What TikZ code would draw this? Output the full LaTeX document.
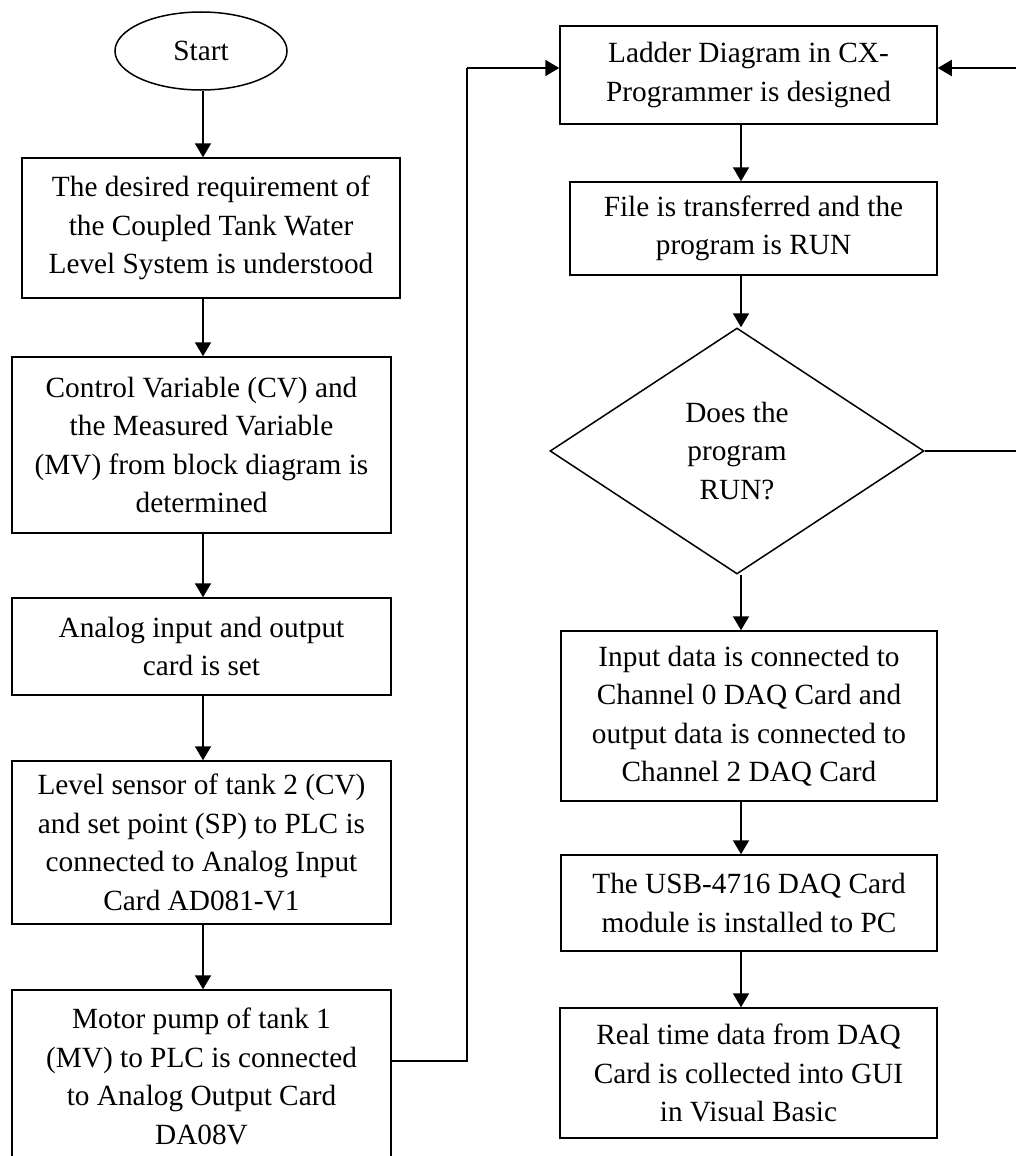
\documentclass[tikz,border=0pt]{standalone}
\usepackage{fontspec}
\setmainfont{Liberation Serif}
\usetikzlibrary{shapes.geometric,arrows.meta}

\begin{document}
\begin{tikzpicture}[x=1pt,y=-1pt,
  every node/.style={font=\fontsize{29.3}{38.5}\selectfont, align=center, inner sep=0pt},
  stepbox/.style={draw, line width=1.5pt, rectangle},
  startshape/.style={draw, line width=1.5pt, ellipse},
  decision/.style={draw, line width=1.5pt, diamond},
  flow/.style={line width=2pt, -{Triangle[width=16pt,length=14pt]}},
  link/.style={line width=2pt}]

\useasboundingbox (0,0) rectangle (1016,1156);

% left column
\node[startshape, minimum width=172pt, minimum height=78pt] (start) at (201,51) {Start};
\node[stepbox, minimum width=378pt, minimum height=140pt] (req) at (211,228)
  {The desired requirement of\\the Coupled Tank Water\\Level System is understood};
\node[stepbox, minimum width=379pt, minimum height=176pt] (var) at (201.5,445)
  {Control Variable (CV) and\\the Measured Variable\\(MV) from block diagram is\\determined};
\node[stepbox, minimum width=379pt, minimum height=97pt] (card) at (201.5,646.5)
  {Analog input and output\\card is set};
\node[stepbox, minimum width=379pt, minimum height=163pt] (sensor) at (201.5,842.5)
  {Level sensor of tank 2 (CV)\\and set point (SP) to PLC is\\connected to Analog Input\\Card AD081-V1};
\node[stepbox, minimum width=379pt, minimum height=173pt] (pump) at (201.5,1076.5)
  {Motor pump of tank 1\\(MV) to PLC is connected\\to Analog Output Card\\DA08V};

% right column
\node[stepbox, minimum width=377pt, minimum height=98pt] (ladder) at (748.5,75)
  {Ladder Diagram in CX-\\Programmer is designed};
\node[stepbox, minimum width=367pt, minimum height=93pt] (transfer) at (753.5,228.5)
  {File is transferred and the\\program is RUN};
\node[decision, minimum width=374pt, minimum height=246pt, aspect=1.52] (check) at (737,451)
  {Does the\\program\\RUN?};
\node[stepbox, minimum width=376pt, minimum height=170pt] (daq) at (749,716)
  {Input data is connected to\\Channel 0 DAQ Card and\\output data is connected to\\Channel 2 DAQ Card};
\node[stepbox, minimum width=376pt, minimum height=96pt] (usb) at (749,903)
  {The USB-4716 DAQ Card\\module is installed to PC};
\node[stepbox, minimum width=377pt, minimum height=130pt] (gui) at (748.5,1073)
  {Real time data from DAQ\\Card is collected into GUI\\in Visual Basic};

% connector corners
\coordinate (upL) at (467,1061);
\coordinate (topL) at (467,68);
\coordinate (outR) at (1030,451);
\coordinate (topR) at (1030,68);

% straight flow arrows
\draw[flow] (start.south -| 203,0) -- (req.north -| 203,0);
\draw[flow] (req.south -| 203,0) -- (var.north -| 203,0);
\draw[flow] (var.south -| 203,0) -- (card.north -| 203,0);
\draw[flow] (card.south -| 203,0) -- (sensor.north -| 203,0);
\draw[flow] (sensor.south -| 203,0) -- (pump.north -| 203,0);

\draw[flow] (ladder.south -| 741,0) -- (transfer.north -| 741,0);
\draw[flow] (transfer.south -| 741,0) -- (check.north -| 741,0);
\draw[flow] (check.south -| 741,0) -- (daq.north -| 741,0);
\draw[flow] (daq.south -| 741,0) -- (usb.north -| 741,0);
\draw[flow] (usb.south -| 741,0) -- (gui.north -| 741,0);

% loop connectors into the ladder box
\draw[link] (pump.east |- upL) -- (upL) -- (topL);
\draw[flow] (topL) -- (ladder.west |- topL);
\draw[link, line width=1.5pt] (check.east) -- (outR) -- (topR);
\draw[flow] (topR) -- (ladder.east |- topR);

\end{tikzpicture}
\end{document}
